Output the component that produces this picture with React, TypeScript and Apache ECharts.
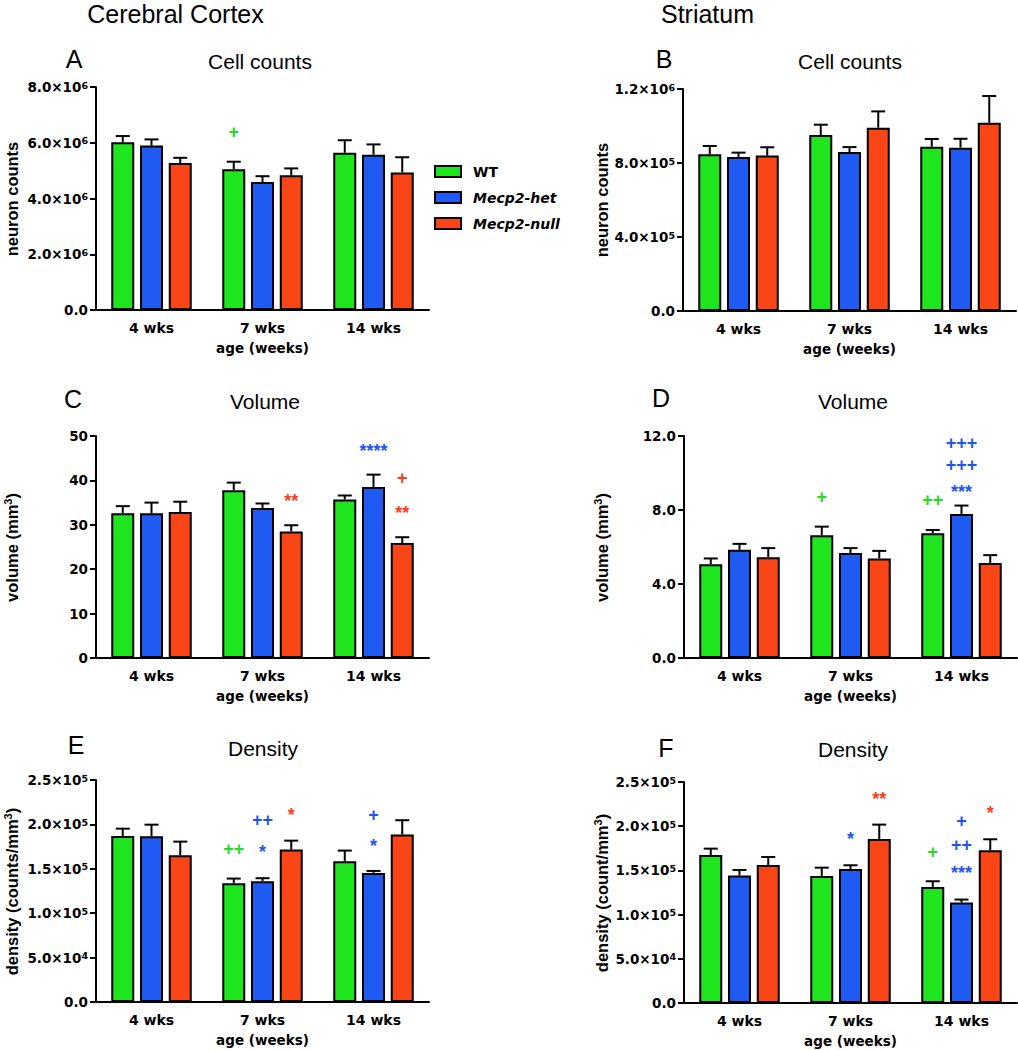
import React, { useEffect, useRef } from 'react';
import * as echarts from 'echarts';

// ---------- data ----------
const categories = ['4 wks', '7 wks', '14 wks'];
const groups = ['WT', 'Mecp2-het', 'Mecp2-null'];
const groupColors = ['#1ee51e', '#1f5af2', '#fa4616'];
const noteColors = ['#22dd22', '#2255ee', '#ff3b1a'];

// rows: WT, het, null ; columns: 4, 7, 14 wks
const cortexCountsMean = [[6.02e6, 5.05e6, 5.64e6], [5.9e6, 4.59e6, 5.57e6], [5.27e6, 4.83e6, 4.93e6]];
const cortexCountsSem = [[0.22e6, 0.27e6, 0.45e6], [0.22e6, 0.21e6, 0.37e6], [0.19e6, 0.25e6, 0.55e6]];
const cortexCountsNotes = [{ cat: 1, grp: 0, y: 6.37e6, text: '+' }];

const striatumCountsMean = [[0.847e6, 0.951e6, 0.888e6], [0.832e6, 0.859e6, 0.883e6], [0.84e6, 0.991e6, 1.018e6]];
const striatumCountsSem = [[0.045e6, 0.056e6, 0.042e6], [0.024e6, 0.027e6, 0.048e6], [0.045e6, 0.088e6, 0.144e6]];
const striatumCountsNotes: { cat: number; grp: number; y: number; text: string }[] = [];

const cortexVolumeMean = [[32.6, 37.8, 35.7], [32.6, 33.8, 38.5], [32.9, 28.5, 25.9]];
const cortexVolumeSem = [[1.6, 1.7, 0.9], [2.4, 1.0, 2.8], [2.3, 1.4, 1.3]];
const cortexVolumeNotes = [
  { cat: 1, grp: 2, y: 36.3, text: '**' },
  { cat: 2, grp: 1, y: 47.6, text: '****' },
  { cat: 2, grp: 2, y: 40.5, text: '+' },
  { cat: 2, grp: 2, y: 33.5, text: '**' },
];

const striatumVolumeMean = [[5.07, 6.64, 6.75], [5.85, 5.67, 7.79], [5.45, 5.38, 5.13]];
const striatumVolumeSem = [[0.31, 0.46, 0.17], [0.32, 0.27, 0.45], [0.49, 0.41, 0.43]];
const striatumVolumeNotes = [
  { cat: 1, grp: 0, y: 8.72, text: '+' },
  { cat: 2, grp: 0, y: 8.53, text: '++' },
  { cat: 2, grp: 1, y: 11.6, text: '+++' },
  { cat: 2, grp: 1, y: 10.42, text: '+++' },
  { cat: 2, grp: 1, y: 9.2, text: '***' },
];

const cortexDensityMean = [[1.87e5, 1.338e5, 1.585e5], [1.867e5, 1.36e5, 1.454e5], [1.653e5, 1.716e5, 1.885e5]];
const cortexDensitySem = [[0.082e5, 0.052e5, 0.12e5], [0.13e5, 0.034e5, 0.022e5], [0.153e5, 0.101e5, 0.162e5]];
const cortexDensityNotes = [
  { cat: 1, grp: 0, y: 1.727e5, text: '++' },
  { cat: 1, grp: 1, y: 2.047e5, text: '++' },
  { cat: 1, grp: 1, y: 1.73e5, text: '*' },
  { cat: 1, grp: 2, y: 2.15e5, text: '*' },
  { cat: 2, grp: 1, y: 2.11e5, text: '+' },
  { cat: 2, grp: 1, y: 1.806e5, text: '*' },
];

const striatumDensityMean = [[1.674e5, 1.437e5, 1.312e5], [1.441e5, 1.516e5, 1.136e5], [1.561e5, 1.855e5, 1.727e5]];
const striatumDensitySem = [[0.072e5, 0.094e5, 0.065e5], [0.064e5, 0.042e5, 0.034e5], [0.091e5, 0.163e5, 0.125e5]];
const striatumDensityNotes = [
  { cat: 1, grp: 1, y: 1.905e5, text: '*' },
  { cat: 1, grp: 2, y: 2.357e5, text: '**' },
  { cat: 2, grp: 0, y: 1.713e5, text: '+' },
  { cat: 2, grp: 1, y: 2.059e5, text: '+' },
  { cat: 2, grp: 1, y: 1.79e5, text: '++' },
  { cat: 2, grp: 1, y: 1.512e5, text: '***' },
  { cat: 2, grp: 2, y: 2.19e5, text: '*' },
];

// ---------- layout ----------
const BAR_W = 23;
const BAR_GAP = 0.25;
const BAR_STEP = BAR_W * (1 + BAR_GAP);
const BOLD = 'DejaVu Sans';
const ARIAL = 'Liberation Sans';

const supFmt = (v: number) => {
  if (v === 0) return '{m|0.0}';
  const e = Math.floor(Math.log10(v) + 1e-9);
  const m = v / Math.pow(10, e);
  return `{m|${m.toFixed(1)}×10}{e|${e}}`;
};
const intFmt = (v: number) => `{m|${v}}`;
const fixFmt = (v: number) => `{m|${v.toFixed(1)}}`;

const panels = [
  { letter: 'A', title: 'Cell counts', mean: cortexCountsMean, sem: cortexCountsSem, notes: cortexCountsNotes, max: 8e6, interval: 2e6, fmt: supFmt,
    yName: '{a|neuron counts}', grid: { left: 96, top: 87, width: 333, height: 223 }, letterPos: [74, 59], titlePos: [260, 61], yNamePos: [11.6, 199] },
  { letter: 'B', title: 'Cell counts', mean: striatumCountsMean, sem: striatumCountsSem, notes: striatumCountsNotes, max: 1.2e6, interval: 4e5, fmt: supFmt,
    yName: '{a|neuron counts}', grid: { left: 683, top: 89, width: 333, height: 222 }, letterPos: [664, 59], titlePos: [850, 61], yNamePos: [601.6, 200] },
  { letter: 'C', title: 'Volume', mean: cortexVolumeMean, sem: cortexVolumeSem, notes: cortexVolumeNotes, max: 50, interval: 10, fmt: intFmt,
    yName: '{a|volume (mm}{s|3}{a|)}', grid: { left: 96, top: 436, width: 333, height: 222 }, letterPos: [73, 399], titlePos: [265, 401], yNamePos: [11.6, 547.5] },
  { letter: 'D', title: 'Volume', mean: striatumVolumeMean, sem: striatumVolumeSem, notes: striatumVolumeNotes, max: 12, interval: 4, fmt: fixFmt,
    yName: '{a|volume (mm}{s|3}{a|)}', grid: { left: 684, top: 436, width: 333, height: 222 }, letterPos: [661, 398], titlePos: [853, 401], yNamePos: [601.6, 547.5] },
  { letter: 'E', title: 'Density', mean: cortexDensityMean, sem: cortexDensitySem, notes: cortexDensityNotes, max: 2.5e5, interval: 5e4, fmt: supFmt,
    yName: '{a|density (counts/mm}{s|3}{a|)}', grid: { left: 96, top: 780, width: 333, height: 222 }, letterPos: [76, 745], titlePos: [263, 748], yNamePos: [11.6, 891.5] },
  { letter: 'F', title: 'Density', mean: striatumDensityMean, sem: striatumDensitySem, notes: striatumDensityNotes, max: 2.5e5, interval: 5e4, fmt: supFmt,
    yName: '{a|density (count/mm}{s|3}{a|)}', grid: { left: 684, top: 782, width: 333, height: 221 }, letterPos: [666, 748], titlePos: [853, 749], yNamePos: [601.6, 893] },
];

function buildOption() {
  const grid: any[] = [];
  const xAxis: any[] = [];
  const yAxis: any[] = [];
  const series: any[] = [];
  const graphic: any[] = [
    { type: 'text', x: 175.5, y: 14, style: { text: 'Cerebral Cortex', fontFamily: ARIAL, fontSize: 25, fill: '#000', align: 'center', verticalAlign: 'middle' } },
    { type: 'text', x: 707.5, y: 14, style: { text: 'Striatum', fontFamily: ARIAL, fontSize: 25, fill: '#000', align: 'center', verticalAlign: 'middle' } },
  ];

  panels.forEach((p, i) => {
    grid.push({ ...p.grid, containLabel: false });
    xAxis.push({
      type: 'category', gridIndex: i, data: categories,
      axisLine: { lineStyle: { color: '#000', width: 2 } },
      axisTick: { alignWithLabel: true, length: 6, lineStyle: { color: '#000', width: 2 } },
      axisLabel: { color: '#000', fontFamily: BOLD, fontWeight: 'bold', fontSize: 14, margin: 11 },
      name: 'age (weeks)', nameLocation: 'middle', nameGap: 31,
      nameTextStyle: { color: '#000', fontFamily: BOLD, fontWeight: 'bold', fontSize: 13.5 },
    });
    yAxis.push({
      type: 'value', gridIndex: i, min: 0, max: p.max, interval: p.interval,
      axisLine: { show: true, lineStyle: { color: '#000', width: 2 } },
      axisTick: { show: true, length: 6, lineStyle: { color: '#000', width: 2 } },
      splitLine: { show: false },
      axisLabel: {
        margin: 8, formatter: p.fmt,
        rich: {
          m: { fontFamily: BOLD, fontWeight: 'bold', fontSize: 13.5, color: '#000', lineHeight: 14, verticalAlign: 'bottom' },
          e: { fontFamily: BOLD, fontWeight: 'bold', fontSize: 9.5, color: '#000', lineHeight: 10, verticalAlign: 'top', padding: [0, 0, 6, 0] },
        },
      },
    });

    groups.forEach((g, gi) => {
      series.push({
        type: 'bar', name: g, xAxisIndex: i, yAxisIndex: i, data: p.mean[gi],
        barWidth: BAR_W, barGap: `${BAR_GAP * 100}%`,
        itemStyle: { color: groupColors[gi], borderColor: '#000', borderWidth: 2 },
        z: 2,
      });
    });

    const errData: number[][] = [];
    p.mean.forEach((row, gi) => row.forEach((m, ci) => errData.push([ci, gi, m, m + p.sem[gi][ci]])));
    series.push({
      type: 'custom', xAxisIndex: i, yAxisIndex: i, data: errData, z: 3,
      encode: { x: 0, y: [2, 3] },
      renderItem: (params: any, api: any) => {
        const c = api.value(0);
        const gi = api.value(1);
        const p0 = api.coord([c, api.value(2)]);
        const p1 = api.coord([c, api.value(3)]);
        const x = p0[0] + (gi - 1) * BAR_STEP;
        return {
          type: 'group',
          children: [
            { type: 'line', shape: { x1: x, y1: p0[1], x2: x, y2: p1[1] }, style: { stroke: '#000', lineWidth: 2 } },
            { type: 'line', shape: { x1: x - 7, y1: p1[1], x2: x + 7, y2: p1[1] }, style: { stroke: '#000', lineWidth: 2 } },
          ],
        };
      },
    });

    if (p.notes.length) {
      const notes = p.notes;
      series.push({
        type: 'custom', xAxisIndex: i, yAxisIndex: i, z: 4,
        data: notes.map((n) => [n.cat, n.grp, n.y]),
        encode: { x: 0, y: 2 },
        renderItem: (params: any, api: any) => {
          const n = notes[params.dataIndex];
          const pt = api.coord([api.value(0), api.value(2)]);
          const isStar = n.text.indexOf('*') >= 0;
          return {
            type: 'text',
            x: pt[0] + (n.grp - 1) * BAR_STEP,
            y: pt[1] + (isStar ? 4 : 0),
            style: { text: n.text, fill: noteColors[n.grp], fontFamily: ARIAL, fontWeight: 'bold', fontSize: 18, align: 'center', verticalAlign: 'middle' },
          };
        },
      });
    }

    graphic.push({ type: 'text', x: p.letterPos[0], y: p.letterPos[1], style: { text: p.letter, fontFamily: ARIAL, fontSize: 25, fill: '#000', align: 'center', verticalAlign: 'middle' } });
    graphic.push({ type: 'text', x: p.titlePos[0], y: p.titlePos[1], style: { text: p.title, fontFamily: ARIAL, fontSize: 21, fill: '#000', align: 'center', verticalAlign: 'middle' } });
    graphic.push({
      type: 'text', x: p.yNamePos[0], y: p.yNamePos[1], rotation: Math.PI / 2,
      style: {
        text: p.yName, align: 'center', verticalAlign: 'middle',
        rich: {
          a: { fontFamily: ARIAL, fontWeight: 'bold', fontSize: 16.5, fill: '#000', lineHeight: 18, verticalAlign: 'bottom' },
          s: { fontFamily: ARIAL, fontWeight: 'bold', fontSize: 11, fill: '#000', lineHeight: 11, verticalAlign: 'top', padding: [0, 0, 5, 0] },
        },
      },
    });
  });

  return {
    animation: false,
    backgroundColor: '#fff',
    grid, xAxis, yAxis, series, graphic,
    legend: {
      data: groups, orient: 'vertical', left: 434, top: 164.5, padding: 0,
      itemWidth: 26, itemHeight: 11, itemGap: 12, icon: 'rect', selectedMode: false,
      itemStyle: { borderColor: '#000', borderWidth: 2 },
      formatter: (name: string) => (name === 'WT' ? `{n|${name}}` : `{i|${name}}`),
      textStyle: {
        color: '#000', fontFamily: BOLD, fontWeight: 'bold', fontSize: 14, lineHeight: 14,
        rich: {
          n: { color: '#000', fontFamily: BOLD, fontWeight: 'bold', fontSize: 14, lineHeight: 14, padding: [0, 0, 0, 7] },
          i: { color: '#000', fontFamily: BOLD, fontWeight: 'bold', fontStyle: 'italic', fontSize: 14, lineHeight: 14, padding: [0, 0, 0, 7] },
        },
      },
    },
  };
}

export default function App() {
  const ref = useRef<HTMLDivElement>(null);
  useEffect(() => {
    document.body.style.margin = '0';
    if (!ref.current) return;
    const chart = echarts.init(ref.current, undefined, { renderer: 'svg' });
    chart.setOption(buildOption() as any);
    return () => chart.dispose();
  }, []);
  return <div ref={ref} style={{ width: 1018, height: 1050 }} />;
}
